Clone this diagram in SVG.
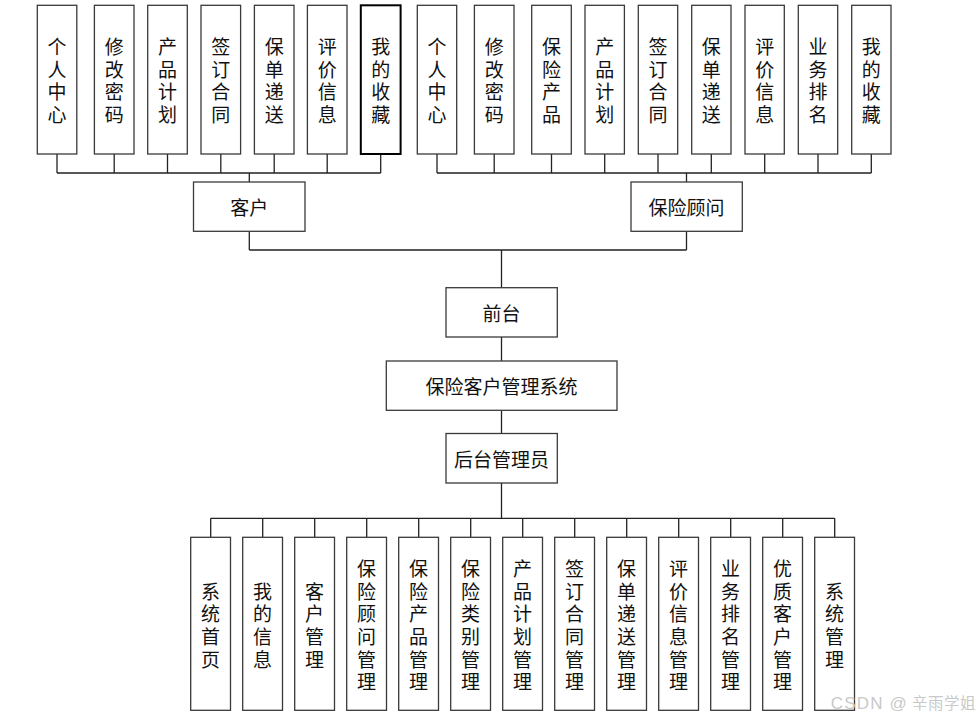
<svg xmlns="http://www.w3.org/2000/svg" width="980" height="722" viewBox="0 0 980 722">
<style>
.b{fill:#fff;stroke:#3a3a3a;stroke-width:1.3}
.bk{fill:#fff;stroke:#000;stroke-width:2}
.t{font-family:"Noto Sans CJK SC","Liberation Sans",sans-serif;font-size:19px;fill:#111;text-anchor:middle;dominant-baseline:central}
.c line,.c path{stroke:#222;stroke-width:1.3;fill:none}
.wm{font-family:"Liberation Sans","Noto Sans CJK SC",sans-serif;font-size:17px;fill:#c9c9c9}
.wmc{font-family:"Noto Sans CJK SC",sans-serif;font-size:15.5px;fill:#c9c9c9}
</style>
<rect width="980" height="722" fill="#fff"/>
<g class="c" id="connectors">
<path d="M57 154V173M114.2 154V173M167.5 154V173M220.8 154V173M274.2 154V173M327.2 154V173M380.7 154V173M57 173H380.7M249.3 173V182"/>
<path d="M437 154V173M494.2 154V173M551.5 154V173M604.7 154V173M658 154V173M711.3 154V173M764.7 154V173M818 154V173M871.3 154V173M437 173H871.3M686.5 173V182"/>
<path d="M249.3 231V250M686.5 231V250M249.3 250H686.5M501.5 250V287.5"/>
<path d="M501.5 337V361M501.5 410V433.5"/>
<path d="M501.5 483V518.3M210.7 518.3H834.7M210.7 518.3V537M262.7 518.3V537M314.7 518.3V537M366.7 518.3V537M418.7 518.3V537M470.7 518.3V537M522.7 518.3V537M574.7 518.3V537M626.7 518.3V537M678.7 518.3V537M730.7 518.3V537M782.7 518.3V537M834.7 518.3V537"/>
</g>
<g id="c1"><rect class="b" x="37.3" y="5.3" width="39.5" height="148.7"/><text class="t"><tspan x="57" y="45">个</tspan><tspan x="57" y="67.7">人</tspan><tspan x="57" y="90.4">中</tspan><tspan x="57" y="113.1">心</tspan></text></g>
<g id="c2"><rect class="b" x="94.4" y="5.3" width="39.6" height="148.7"/><text class="t"><tspan x="114.2" y="45">修</tspan><tspan x="114.2" y="67.7">改</tspan><tspan x="114.2" y="90.4">密</tspan><tspan x="114.2" y="113.1">码</tspan></text></g>
<g id="c3"><rect class="b" x="147.7" y="5.3" width="39.6" height="148.7"/><text class="t"><tspan x="167.5" y="45">产</tspan><tspan x="167.5" y="67.7">品</tspan><tspan x="167.5" y="90.4">计</tspan><tspan x="167.5" y="113.1">划</tspan></text></g>
<g id="c4"><rect class="b" x="201" y="5.3" width="39.6" height="148.7"/><text class="t"><tspan x="220.8" y="45">签</tspan><tspan x="220.8" y="67.7">订</tspan><tspan x="220.8" y="90.4">合</tspan><tspan x="220.8" y="113.1">同</tspan></text></g>
<g id="c5"><rect class="b" x="254.4" y="5.3" width="39.6" height="148.7"/><text class="t"><tspan x="274.2" y="45">保</tspan><tspan x="274.2" y="67.7">单</tspan><tspan x="274.2" y="90.4">递</tspan><tspan x="274.2" y="113.1">送</tspan></text></g>
<g id="c6"><rect class="b" x="307.4" y="5.3" width="39.6" height="148.7"/><text class="t"><tspan x="327.2" y="45">评</tspan><tspan x="327.2" y="67.7">价</tspan><tspan x="327.2" y="90.4">信</tspan><tspan x="327.2" y="113.1">息</tspan></text></g>
<g id="c7"><rect class="bk" x="360.8" y="5.3" width="39.8" height="148.7"/><text class="t"><tspan x="380.7" y="45">我</tspan><tspan x="380.7" y="67.7">的</tspan><tspan x="380.7" y="90.4">收</tspan><tspan x="380.7" y="113.1">藏</tspan></text></g>
<g id="customer"><rect class="b" x="193.5" y="182" width="111.5" height="49.3"/><text class="t" x="249.3" y="206.5">客户</text></g>
<g id="a1"><rect class="b" x="417.3" y="5.3" width="39.4" height="148.7"/><text class="t"><tspan x="437" y="45">个</tspan><tspan x="437" y="67.7">人</tspan><tspan x="437" y="90.4">中</tspan><tspan x="437" y="113.1">心</tspan></text></g>
<g id="a2"><rect class="b" x="474.4" y="5.3" width="39.6" height="148.7"/><text class="t"><tspan x="494.2" y="45">修</tspan><tspan x="494.2" y="67.7">改</tspan><tspan x="494.2" y="90.4">密</tspan><tspan x="494.2" y="113.1">码</tspan></text></g>
<g id="a3"><rect class="b" x="531.7" y="5.3" width="39.6" height="148.7"/><text class="t"><tspan x="551.5" y="45">保</tspan><tspan x="551.5" y="67.7">险</tspan><tspan x="551.5" y="90.4">产</tspan><tspan x="551.5" y="113.1">品</tspan></text></g>
<g id="a4"><rect class="b" x="585" y="5.3" width="39.4" height="148.7"/><text class="t"><tspan x="604.7" y="45">产</tspan><tspan x="604.7" y="67.7">品</tspan><tspan x="604.7" y="90.4">计</tspan><tspan x="604.7" y="113.1">划</tspan></text></g>
<g id="a5"><rect class="b" x="638.3" y="5.3" width="39.4" height="148.7"/><text class="t"><tspan x="658" y="45">签</tspan><tspan x="658" y="67.7">订</tspan><tspan x="658" y="90.4">合</tspan><tspan x="658" y="113.1">同</tspan></text></g>
<g id="a6"><rect class="b" x="691.7" y="5.3" width="39.3" height="148.7"/><text class="t"><tspan x="711.3" y="45">保</tspan><tspan x="711.3" y="67.7">单</tspan><tspan x="711.3" y="90.4">递</tspan><tspan x="711.3" y="113.1">送</tspan></text></g>
<g id="a7"><rect class="b" x="745" y="5.3" width="39.3" height="148.7"/><text class="t"><tspan x="764.7" y="45">评</tspan><tspan x="764.7" y="67.7">价</tspan><tspan x="764.7" y="90.4">信</tspan><tspan x="764.7" y="113.1">息</tspan></text></g>
<g id="a8"><rect class="b" x="798.3" y="5.3" width="39.4" height="148.7"/><text class="t"><tspan x="818" y="45">业</tspan><tspan x="818" y="67.7">务</tspan><tspan x="818" y="90.4">排</tspan><tspan x="818" y="113.1">名</tspan></text></g>
<g id="a9"><rect class="b" x="851.7" y="5.3" width="39.3" height="148.7"/><text class="t"><tspan x="871.3" y="45">我</tspan><tspan x="871.3" y="67.7">的</tspan><tspan x="871.3" y="90.4">收</tspan><tspan x="871.3" y="113.1">藏</tspan></text></g>
<g id="advisor"><rect class="b" x="631" y="182" width="111.3" height="49.3"/><text class="t" x="686.6" y="206.5">保险顾问</text></g>
<g id="front"><rect class="b" x="446" y="287.7" width="111.3" height="49.3"/><text class="t" x="501.6" y="312.3">前台</text></g>
<g id="system"><rect class="b" x="386.3" y="361" width="230.7" height="49.3"/><text class="t" x="501.6" y="385.6">保险客户管理系统</text></g>
<g id="admin"><rect class="b" x="446" y="433.5" width="111.3" height="49.5"/><text class="t" x="501.6" y="458.2">后台管理员</text></g>
<g id="m1"><rect class="b" x="190.7" y="537.3" width="39.8" height="173"/><text class="t"><tspan x="210.6" y="589.5">系</tspan><tspan x="210.6" y="612.2">统</tspan><tspan x="210.6" y="634.9">首</tspan><tspan x="210.6" y="657.6">页</tspan></text></g>
<g id="m2"><rect class="b" x="242.7" y="537.3" width="39.8" height="173"/><text class="t"><tspan x="262.6" y="589.5">我</tspan><tspan x="262.6" y="612.2">的</tspan><tspan x="262.6" y="634.9">信</tspan><tspan x="262.6" y="657.6">息</tspan></text></g>
<g id="m3"><rect class="b" x="294.7" y="537.3" width="39.8" height="173"/><text class="t"><tspan x="314.6" y="589.5">客</tspan><tspan x="314.6" y="612.2">户</tspan><tspan x="314.6" y="634.9">管</tspan><tspan x="314.6" y="657.6">理</tspan></text></g>
<g id="m4"><rect class="b" x="346.7" y="537.3" width="39.8" height="173"/><text class="t"><tspan x="366.6" y="566.8">保</tspan><tspan x="366.6" y="589.5">险</tspan><tspan x="366.6" y="612.2">顾</tspan><tspan x="366.6" y="634.9">问</tspan><tspan x="366.6" y="657.6">管</tspan><tspan x="366.6" y="680.3">理</tspan></text></g>
<g id="m5"><rect class="b" x="398.7" y="537.3" width="39.8" height="173"/><text class="t"><tspan x="418.6" y="566.8">保</tspan><tspan x="418.6" y="589.5">险</tspan><tspan x="418.6" y="612.2">产</tspan><tspan x="418.6" y="634.9">品</tspan><tspan x="418.6" y="657.6">管</tspan><tspan x="418.6" y="680.3">理</tspan></text></g>
<g id="m6"><rect class="b" x="450.7" y="537.3" width="39.8" height="173"/><text class="t"><tspan x="470.6" y="566.8">保</tspan><tspan x="470.6" y="589.5">险</tspan><tspan x="470.6" y="612.2">类</tspan><tspan x="470.6" y="634.9">别</tspan><tspan x="470.6" y="657.6">管</tspan><tspan x="470.6" y="680.3">理</tspan></text></g>
<g id="m7"><rect class="b" x="502.7" y="537.3" width="39.8" height="173"/><text class="t"><tspan x="522.6" y="566.8">产</tspan><tspan x="522.6" y="589.5">品</tspan><tspan x="522.6" y="612.2">计</tspan><tspan x="522.6" y="634.9">划</tspan><tspan x="522.6" y="657.6">管</tspan><tspan x="522.6" y="680.3">理</tspan></text></g>
<g id="m8"><rect class="b" x="554.7" y="537.3" width="39.8" height="173"/><text class="t"><tspan x="574.6" y="566.8">签</tspan><tspan x="574.6" y="589.5">订</tspan><tspan x="574.6" y="612.2">合</tspan><tspan x="574.6" y="634.9">同</tspan><tspan x="574.6" y="657.6">管</tspan><tspan x="574.6" y="680.3">理</tspan></text></g>
<g id="m9"><rect class="b" x="606.7" y="537.3" width="39.8" height="173"/><text class="t"><tspan x="626.6" y="566.8">保</tspan><tspan x="626.6" y="589.5">单</tspan><tspan x="626.6" y="612.2">递</tspan><tspan x="626.6" y="634.9">送</tspan><tspan x="626.6" y="657.6">管</tspan><tspan x="626.6" y="680.3">理</tspan></text></g>
<g id="m10"><rect class="b" x="658.7" y="537.3" width="39.8" height="173"/><text class="t"><tspan x="678.6" y="566.8">评</tspan><tspan x="678.6" y="589.5">价</tspan><tspan x="678.6" y="612.2">信</tspan><tspan x="678.6" y="634.9">息</tspan><tspan x="678.6" y="657.6">管</tspan><tspan x="678.6" y="680.3">理</tspan></text></g>
<g id="m11"><rect class="b" x="710.7" y="537.3" width="39.8" height="173"/><text class="t"><tspan x="730.6" y="566.8">业</tspan><tspan x="730.6" y="589.5">务</tspan><tspan x="730.6" y="612.2">排</tspan><tspan x="730.6" y="634.9">名</tspan><tspan x="730.6" y="657.6">管</tspan><tspan x="730.6" y="680.3">理</tspan></text></g>
<g id="m12"><rect class="b" x="762.7" y="537.3" width="39.8" height="173"/><text class="t"><tspan x="782.6" y="566.8">优</tspan><tspan x="782.6" y="589.5">质</tspan><tspan x="782.6" y="612.2">客</tspan><tspan x="782.6" y="634.9">户</tspan><tspan x="782.6" y="657.6">管</tspan><tspan x="782.6" y="680.3">理</tspan></text></g>
<g id="m13"><rect class="b" x="814.7" y="537.3" width="39.8" height="173"/><text class="t"><tspan x="834.6" y="589.5">系</tspan><tspan x="834.6" y="612.2">统</tspan><tspan x="834.6" y="634.9">管</tspan><tspan x="834.6" y="657.6">理</tspan></text></g>
<text class="wm" x="830.7" y="709" letter-spacing="1.2">CSDN @<tspan class="wmc" x="912" letter-spacing="0.5">辛雨学姐</tspan></text>
</svg>
